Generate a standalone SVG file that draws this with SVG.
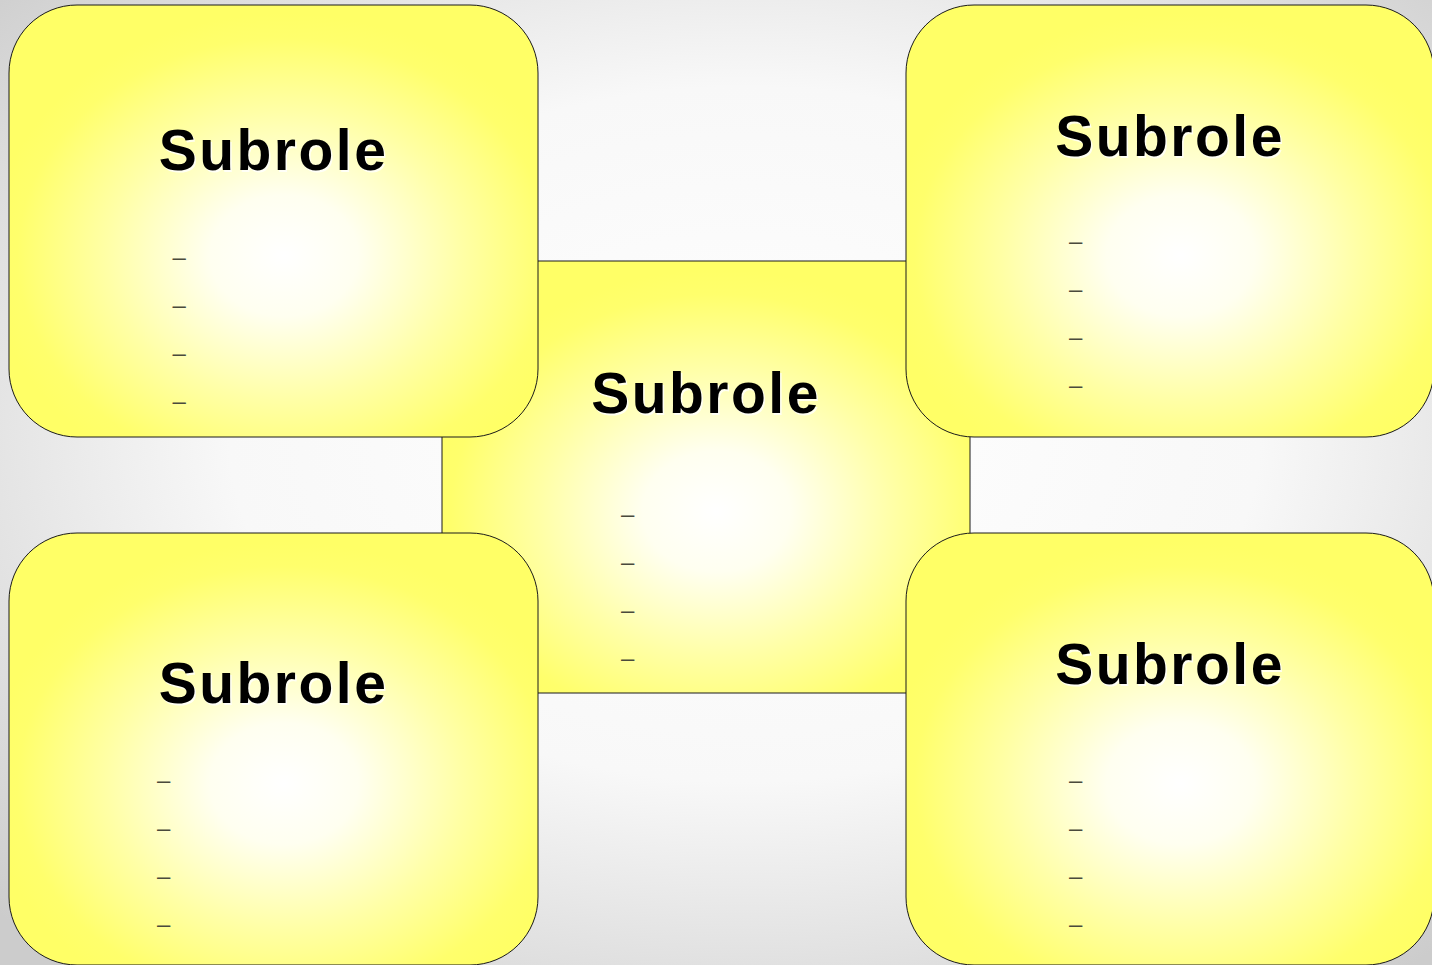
<svg xmlns="http://www.w3.org/2000/svg" width="1432" height="965" viewBox="0 0 1432 965">
  <defs>
    <radialGradient id="bg" cx="0.52" cy="0.45" r="0.72">
      <stop offset="0" stop-color="#ffffff"/>
      <stop offset="0.5" stop-color="#f8f8f8"/>
      <stop offset="1" stop-color="#cccccc"/>
    </radialGradient>
    <radialGradient id="yel" cx="0.52" cy="0.58" r="0.56">
      <stop offset="0" stop-color="#ffffff"/>
      <stop offset="0.25" stop-color="#fffff0"/>
      <stop offset="0.6" stop-color="#ffffa6"/>
      <stop offset="0.9" stop-color="#ffff6c"/>
      <stop offset="1" stop-color="#ffff66"/>
    </radialGradient>
  </defs>
  <style>
    .box { fill: url(#yel); stroke: #1a1a1a; stroke-width: 1; }
    .title { font-family: "Liberation Sans", Arial, sans-serif; font-weight: bold; font-size: 57px; letter-spacing: 2.5px; text-anchor: middle; fill: #000000; }
    .shadow { fill: #ffffff; opacity: 0.8; }
    .dash { font-family: "Liberation Sans", Arial, sans-serif; font-size: 24px; fill: #4a4a3c; }
  </style>
  <rect x="0" y="0" width="1432" height="965" fill="url(#bg)"/>
  <g id="connectors"></g>

  <g id="node-center">
    <rect class="box" x="442" y="261" width="528" height="432"/>
    <text class="title shadow" x="707.5" y="414.5">Subrole</text>
    <text class="title" x="706" y="413">Subrole</text>
    <text class="dash" x="621" y="521.5">–</text>
    <text class="dash" x="621" y="569.5">–</text>
    <text class="dash" x="621" y="617.5">–</text>
    <text class="dash" x="621" y="665.5">–</text>
  </g>

  <g id="node-top-left">
    <rect class="box" x="9" y="5" width="529" height="432" rx="68" ry="68"/>
    <text class="title shadow" x="275" y="171.5">Subrole</text>
    <text class="title" x="273.5" y="170">Subrole</text>
    <text class="dash" x="172.5" y="264.5">–</text>
    <text class="dash" x="172.5" y="312.5">–</text>
    <text class="dash" x="172.5" y="360.5">–</text>
    <text class="dash" x="172.5" y="408.5">–</text>
  </g>

  <g id="node-top-right">
    <rect class="box" x="906" y="5" width="528" height="432" rx="68" ry="68"/>
    <text class="title shadow" x="1171.5" y="157.5">Subrole</text>
    <text class="title" x="1170" y="156">Subrole</text>
    <text class="dash" x="1069" y="249">–</text>
    <text class="dash" x="1069" y="297">–</text>
    <text class="dash" x="1069" y="345">–</text>
    <text class="dash" x="1069" y="393">–</text>
  </g>

  <g id="node-bottom-left">
    <rect class="box" x="9" y="533" width="529" height="432" rx="68" ry="68"/>
    <text class="title shadow" x="275" y="704.5">Subrole</text>
    <text class="title" x="273.5" y="703">Subrole</text>
    <text class="dash" x="157" y="788">–</text>
    <text class="dash" x="157" y="836">–</text>
    <text class="dash" x="157" y="884">–</text>
    <text class="dash" x="157" y="932">–</text>
  </g>

  <g id="node-bottom-right">
    <rect class="box" x="906" y="533" width="528" height="432" rx="68" ry="68"/>
    <text class="title shadow" x="1171.5" y="685.5">Subrole</text>
    <text class="title" x="1170" y="684">Subrole</text>
    <text class="dash" x="1069" y="788">–</text>
    <text class="dash" x="1069" y="836">–</text>
    <text class="dash" x="1069" y="884">–</text>
    <text class="dash" x="1069" y="932">–</text>
  </g>
</svg>
